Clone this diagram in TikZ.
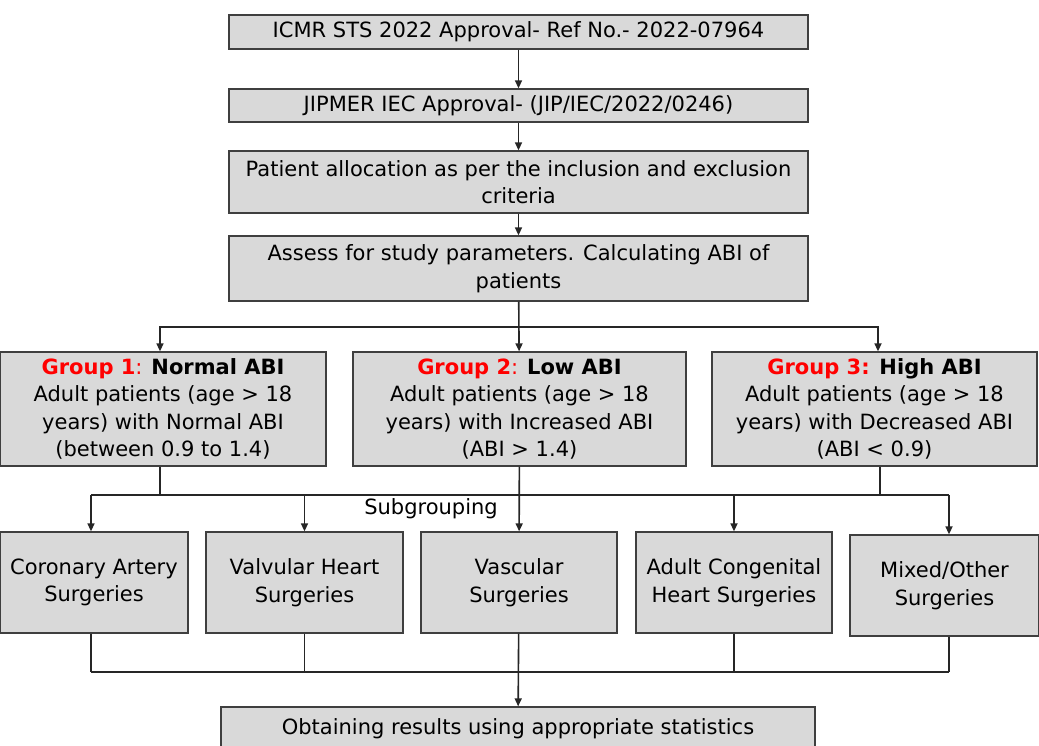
\documentclass[tikz,border=0pt]{standalone}
\usepackage{fontspec}
\setmainfont{DejaVu Sans}
\usepackage{xcolor}
\usepackage{tikz}
\usetikzlibrary{positioning,arrows.meta}
\definecolor{boxgray}{HTML}{D9D9D9}
\definecolor{edgegray}{HTML}{3F3F3F}
\definecolor{grpred}{HTML}{FF0000}
\newcommand{\grp}[2]{{\color{grpred}\textbf{#1}}\textbf{#2}}

\begin{document}
\begin{tikzpicture}[x=1pt, y=-1pt,
  box/.style={draw=edgegray, fill=boxgray, line width=1.3pt, inner sep=0pt, align=center,
    font=\fontsize{21}{27.5}\selectfont},
  link/.style={line width=1.6pt, draw=black!85},
  arr/.style={link, -{Triangle[length=8pt,width=7pt]}}]
\useasboundingbox (0,0) rectangle (1039,746);
\node[box, minimum width=579pt, minimum height=34pt] (icmr) at (518.5,32) {ICMR STS 2022 Approval- Ref No.- 2022-07964};
\node[box, minimum width=579pt, minimum height=33pt] (iec) at (518.5,105.5) {JIPMER IEC Approval- (JIP/IEC/2022/0246)};
\node[box, minimum width=579pt, minimum height=62pt] (alloc) at (518.5,182) {Patient allocation as per the inclusion and exclusion\\criteria};
\node[box, minimum width=579pt, minimum height=65pt] (assess) at (518.5,268.5) {Assess for study parameters. Calculating ABI of\\patients};
\node[box, minimum width=326pt, minimum height=114pt] (g1) at (163,409) {{\color{grpred}\textbf{Group 1}:} \textbf{Normal ABI}\\Adult patients (age > 18\\years) with Normal ABI\\(between 0.9 to 1.4)};
\node[box, minimum width=333pt, minimum height=114pt] (g2) at (519.5,409) {{\color{grpred}\textbf{Group 2}:} \textbf{Low ABI}\\Adult patients (age > 18\\years) with Increased ABI\\(ABI > 1.4)};
\node[box, minimum width=325pt, minimum height=114pt] (g3) at (874.5,409) {\grp{Group 3:}{ High ABI}\\Adult patients (age > 18\\years) with Decreased ABI\\(ABI < 0.9)};
\node[box, minimum width=188pt, minimum height=101pt] (coronary) at (94,582.5) {Coronary Artery\\Surgeries};
\node[box, minimum width=197pt, minimum height=101pt] (valvular) at (304.5,582.5) {Valvular Heart\\Surgeries};
\node[box, minimum width=196pt, minimum height=101pt] (vascular) at (519,582.5) {Vascular\\Surgeries};
\node[box, minimum width=196pt, minimum height=101pt] (congenital) at (734,582.5) {Adult Congenital\\Heart Surgeries};
\node[box, minimum width=189pt, minimum height=101pt] (mixed) at (944.5,585.5) {Mixed/Other\\Surgeries};
\node[box, minimum width=594pt, minimum height=44pt] (results) at (518,729) {Obtaining results using appropriate statistics};
\node[font=\fontsize{21}{27.5}\selectfont] (subgrp) at (431,509) {Subgrouping};
\coordinate (split) at (519,327);
\coordinate (subline) at (519,495);
\coordinate (joinline) at (519,672);
\draw[arr] (icmr) -- (iec);
\draw[arr] (iec) -- (alloc);
\draw[arr] (alloc) -- (assess);
\draw[arr] (assess) -- (g2);
\draw[arr] (split) -| ([xshift=-3pt]g1.north);
\draw[arr] (split) -| ([xshift=3.5pt]g3.north);
\draw[link] ([xshift=-3pt]g1.south) -- ([xshift=-3pt]g1.south |- subline);
\draw[link] ([xshift=5.5pt]g3.south) -- ([xshift=5.5pt]g3.south |- subline);
\draw[link] ([xshift=-3pt]coronary.north |- subline) -- ([xshift=4.5pt]mixed.north |- subline);
\draw[arr] ([xshift=-3pt]coronary.north |- subline) -- ([xshift=-3pt]coronary.north);
\draw[arr] ([xshift=4.5pt]mixed.north |- subline) -- ([xshift=4.5pt]mixed.north);
\foreach \s in {valvular,congenital} { \draw[arr] (\s.north |- subline) -- (\s.north); }
\draw[arr] (g2) -- (vascular);
\draw[link] ([xshift=-3pt]coronary.south) -- ([xshift=-3pt]coronary.south |- joinline);
\draw[link] ([xshift=4.5pt]mixed.south) -- ([xshift=4.5pt]mixed.south |- joinline);
\foreach \s in {valvular,congenital} { \draw[link] (\s.south) -- (\s.south |- joinline); }
\draw[link] ([xshift=-3pt]coronary.south |- joinline) -- ([xshift=4.5pt]mixed.south |- joinline);
\draw[arr] (vascular) -- (results);
\end{tikzpicture}
\end{document}
